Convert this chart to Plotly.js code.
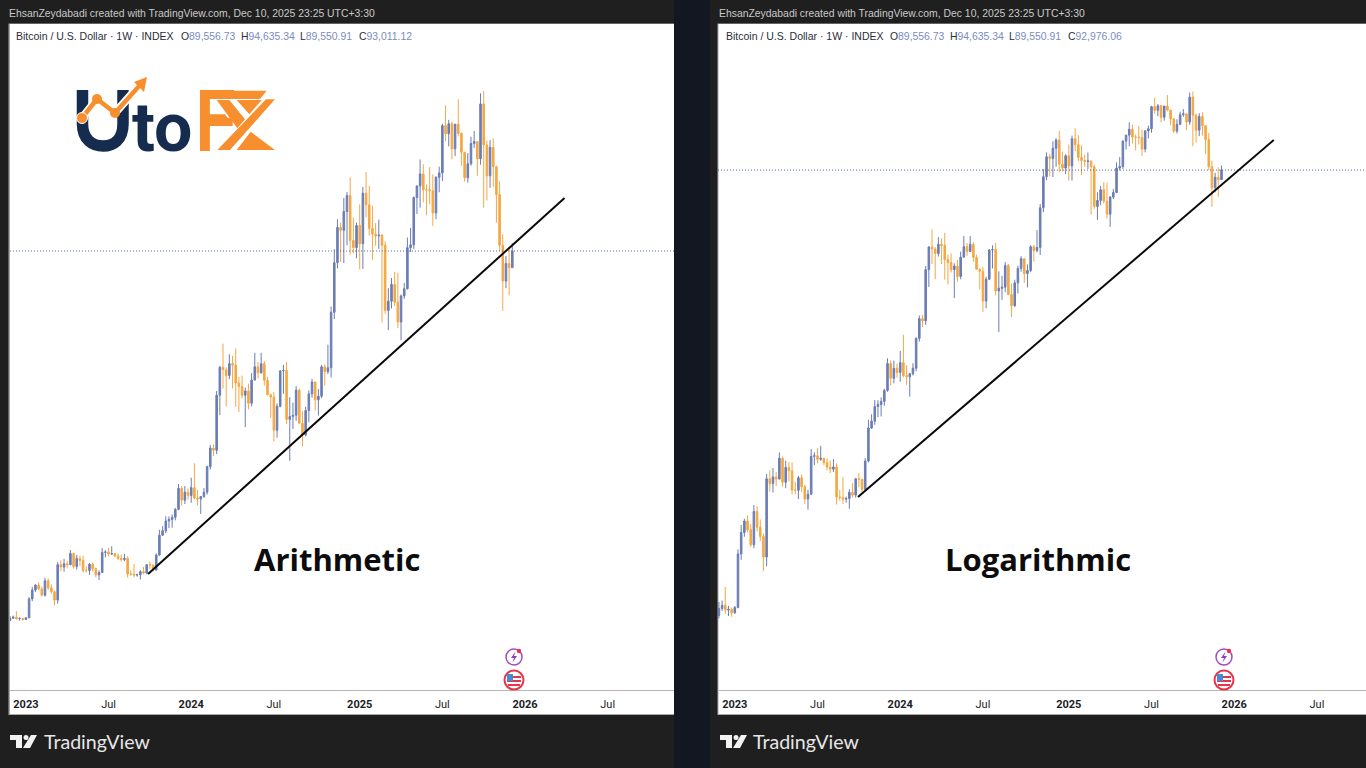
<!DOCTYPE html>
<html><head><meta charset="utf-8">
<script src="https://cdn.plot.ly/plotly-3.0.1.min.js"></script>
<style>html,body{margin:0;padding:0;background:#1f1f1f;overflow:hidden}#c{width:1366px;height:768px}</style>
</head><body><div id="c"></div>
<script>
const weekStarts = [
"2022-11-28","2022-12-05","2022-12-12","2022-12-19","2022-12-26",
"2023-01-02","2023-01-09","2023-01-16","2023-01-23","2023-01-30","2023-02-06","2023-02-13","2023-02-20","2023-02-27","2023-03-06","2023-03-13","2023-03-20","2023-03-27","2023-04-03","2023-04-10","2023-04-17","2023-04-24","2023-05-01","2023-05-08","2023-05-15","2023-05-22","2023-05-29","2023-06-05","2023-06-12","2023-06-19","2023-06-26","2023-07-03","2023-07-10","2023-07-17","2023-07-24","2023-07-31","2023-08-07","2023-08-14","2023-08-21","2023-08-28","2023-09-04","2023-09-11","2023-09-18","2023-09-25","2023-10-02","2023-10-09","2023-10-16","2023-10-23","2023-10-30","2023-11-06","2023-11-13","2023-11-20","2023-11-27","2023-12-04","2023-12-11","2023-12-18","2023-12-25",
"2024-01-01","2024-01-08","2024-01-15","2024-01-22","2024-01-29","2024-02-05","2024-02-12","2024-02-19","2024-02-26","2024-03-04","2024-03-11","2024-03-18","2024-03-25","2024-04-01","2024-04-08","2024-04-15","2024-04-22","2024-04-29","2024-05-06","2024-05-13","2024-05-20","2024-05-27","2024-06-03","2024-06-10","2024-06-17","2024-06-24","2024-07-01","2024-07-08","2024-07-15","2024-07-22","2024-07-29","2024-08-05","2024-08-12","2024-08-19","2024-08-26","2024-09-02","2024-09-09","2024-09-16","2024-09-23","2024-09-30","2024-10-07","2024-10-14","2024-10-21","2024-10-28","2024-11-04","2024-11-11","2024-11-18","2024-11-25","2024-12-02","2024-12-09","2024-12-16","2024-12-23","2024-12-30",
"2025-01-06","2025-01-13","2025-01-20","2025-01-27","2025-02-03","2025-02-10","2025-02-17","2025-02-24","2025-03-03","2025-03-10","2025-03-17","2025-03-24","2025-03-31","2025-04-07","2025-04-14","2025-04-21","2025-04-28","2025-05-05","2025-05-12","2025-05-19","2025-05-26","2025-06-02","2025-06-09","2025-06-16","2025-06-23","2025-06-30","2025-07-07","2025-07-14","2025-07-21","2025-07-28","2025-08-04","2025-08-11","2025-08-18","2025-08-25","2025-09-01","2025-09-08","2025-09-15","2025-09-22","2025-09-29","2025-10-06","2025-10-13","2025-10-20","2025-10-27","2025-11-03","2025-11-10","2025-11-17","2025-11-24","2025-12-01","2025-12-08"];
const opens = [16430,16880,17100,16780,16830,
16600,16950,20880,22700,23730,22950,21640,24630,23170,22350,20630,27970,27470,28170,27940,30300,27590,29230,28850,26780,26750,28080,27120,25850,26340,30530,30590,30170,30290,29780,29270,29040,29280,26050,26000,25840,25900,26530,26250,27970,27930,26850,29980,34080,35000,37050,37350,37800,39450,43800,41350,43000,
42300,43950,41800,41600,42100,43000,48300,52150,51700,63100,68900,68400,67200,69650,69350,65650,64900,63100,64000,61450,66250,69000,67750,69650,66200,63200,62700,55850,60800,68150,68250,58100,58700,58950,64150,57300,54850,59950,63400,65850,62150,62900,69000,68000,68800,80300,90600,97900,97300,101200,104500,95200,93700,
98300,94500,105000,102600,97700,96500,96150,96300,94200,80700,82600,86100,82400,78300,83700,85200,93700,94300,104100,106500,109000,105700,105700,105500,100900,108300,109200,119000,117300,119400,114200,119300,117400,113500,108200,111100,115300,115700,112100,123500,115000,108600,114500,110500,104700,94200,86800,90400,89556.73];
const highs = [17320,17420,18370,17060,16950,
17050,21250,23370,23950,24250,23450,25250,25130,23880,22600,28500,28900,29180,28750,31000,30490,30000,29850,29820,27650,28300,28450,27350,26800,31400,31000,31500,31800,30350,30300,30050,30200,29700,26800,28150,26100,26850,27500,28050,28600,27950,30300,35200,35950,38000,37980,38400,39700,44700,44300,44300,43800,
46000,49000,43500,42200,43850,48500,52800,52950,64000,69200,73800,68900,71600,71300,72800,66900,67200,64700,65500,67700,71900,70000,71900,70200,66900,63400,63800,61400,68300,69400,70000,62700,61600,65000,64500,59800,60700,64100,66500,65900,64400,69400,69500,73600,81500,93400,99600,98900,104000,105200,108300,99900,98900,
102700,106300,109400,106500,102400,98800,99500,96500,95000,85300,87400,88700,88500,84000,86400,95800,97800,104300,106600,112000,111000,106800,110400,108900,108500,110500,119400,123200,120200,119800,119300,124500,117600,113500,113300,116700,117900,115700,125700,126200,115900,116000,116400,110700,107500,96500,92000,94000,94635.34];
const lows = [16250,16730,16550,16400,16350,
16550,16900,20400,22320,22730,21450,21350,22770,21960,19550,19900,26600,26520,27200,27900,27130,26970,27700,26320,26350,25850,26550,25350,24800,26250,29500,29700,30000,29500,28900,28600,28700,25300,25700,25350,25500,24900,26000,26000,27100,26550,26800,29800,33950,34500,35550,35650,37150,39250,40200,40550,41450,
40800,41500,40300,38500,41800,42500,47700,50500,50900,59000,64500,60800,66400,64500,60700,59600,62400,56500,60200,60800,66250,66600,67600,65100,63200,58400,53500,54300,60600,63400,57100,49500,56100,57800,57200,52500,54600,57500,62600,59900,58900,62500,65100,67500,66800,78900,89400,90700,90500,94200,92200,92500,91500,
89200,89300,100000,96200,91200,94100,93400,78200,80000,76600,81100,81600,77000,74500,83100,85000,92800,93400,100700,102000,103100,100400,102700,98200,99600,105200,107500,115800,114700,112000,112700,116800,110700,107400,107200,110700,114400,108600,110900,102000,103500,106100,106300,98900,93000,80600,85300,83800,89550.91];
const closes = [16880,17100,16780,16830,16600,
16950,20880,22700,23730,22950,21640,24630,23170,22350,20630,27970,27470,28170,27940,30300,27590,29230,28850,26780,26750,28080,27120,25850,26340,30530,30590,30170,30290,29780,29270,29040,29280,26050,26000,25840,25900,26530,26250,27970,27930,26850,29980,34080,35000,37050,37350,37800,39450,43800,41350,43000,42300,
43950,41800,41600,42100,43000,48300,52150,51700,63100,68900,68400,67200,69650,69350,65650,64900,63100,64000,61450,66250,69000,67750,69650,66200,63200,62700,55850,60800,68150,68250,58100,58700,58950,64150,57300,54850,59950,63400,65850,62150,62900,69000,68000,68800,80300,90600,97900,97300,101200,104500,95200,93700,98300,
94500,105000,102600,97700,96500,96150,96300,94200,80700,82600,86100,82400,78300,83700,85200,93700,94300,104100,106500,109000,105700,105700,105500,100900,108300,109200,119000,117300,119400,114200,119300,117400,113500,108200,111100,115300,115700,112100,123500,115000,108600,114500,110500,104700,94200,86800,90400,89556.73,93011.12];
const lastCloseLog = 92976.06;
const closesLog = closes.slice(0,-1).concat([lastCloseLog]);
const tickDates = ["2023-01-02","2023-07-03","2024-01-01","2024-07-01","2025-01-06","2025-07-07","2026-01-05","2026-07-06"];
const tickLabels = ["<b>2023</b>","Jul","<b>2024</b>","Jul","<b>2025</b>","Jul","<b>2026</b>","Jul"];
const trendDates = ["2023-09-28","2026-04-02"];
const trendDatesLog = ["2023-09-30","2026-04-02"];
const trendArith = [26040,104000];
const trendLog = [26060,104500];
const lastCloseArith = 93011.12;

const UP='#6a7db5', DOWN='#f5a742', NAVY='#152c4f', ORANGE='#f78f2e';
const W=1366,H=768;
const fx=p=>p/W, fy=p=>1-p/H;
const HDR='"Liberation Sans",sans-serif', UI='Lato,"Open Sans",sans-serif';

function candle(close,xa,ya){return {type:'candlestick',x:weekStarts,open:opens,high:highs,low:lows,close:close,xaxis:xa,yaxis:ya,
  increasing:{line:{color:UP,width:1},fillcolor:UP},decreasing:{line:{color:DOWN,width:1},fillcolor:DOWN},whiskerwidth:0,hoverinfo:'skip',showlegend:false};}
function line(x,y,xa,ya,opt){return {type:'scatter',mode:'lines',x:x,y:y,xaxis:xa,yaxis:ya,line:opt,hoverinfo:'skip',showlegend:false};}

const rangeL=["2022-11-28","2026-11-29"], rangeR=["2022-11-26","2026-10-22"];
const dotted={color:'#5468a8',width:1,dash:'1px,2px'};
const traces=[
 candle(closes,'x','y'),
 candle(closesLog,'x2','y2'),
 line(rangeL,[lastCloseArith,lastCloseArith],'x','y',dotted),
 line(rangeR,[lastCloseLog,lastCloseLog],'x2','y2',dotted),
 line(trendDates,trendArith,'x','y',{color:'#0a0a0a',width:2}),
 line(trendDatesLog,trendLog,'x2','y2',{color:'#0a0a0a',width:2}),
];

function xAxis(dom,range,anchor){return {domain:dom,range:range,type:'date',anchor:anchor,rangeslider:{visible:false},showgrid:false,zeroline:false,
  showline:false,ticks:'',tickmode:'array',tickvals:tickDates,ticktext:tickLabels,ticklabelstandoff:6,tickangle:0,
  tickfont:{family:'Roboto,sans-serif',size:11,color:'#1a1d26'},fixedrange:true};}
function yAxis(range,type,anchor){return {domain:[fy(690),fy(24)],range:range,type:type,anchor:anchor,visible:false,showgrid:false,zeroline:false,fixedrange:true};}

function note(text,x,y,size,color,family,anchor,weight){const f={size:size,color:color,family:family||UI}; if(weight) f.weight=weight;
  return {text:text,x:fx(x),y:fy(y),xref:'paper',yref:'paper',xanchor:anchor||'left',yanchor:'middle',showarrow:false,borderpad:0,font:f};}
function rect(x0,y0,x1,y1,fill,layer){return {type:'rect',xref:'paper',yref:'paper',x0:fx(x0),y0:fy(y0),x1:fx(x1),y1:fy(y1),fillcolor:fill,line:{width:0},layer:layer||'below'};}
function path(pts,opt){ // pts: list of [cmd,x,y...] in page pixels
  const d=pts.map(s=>{const c=s[0];let o=c;for(let i=1;i<s.length;i+=2){o+=(i>1?' ':'')+fx(s[i]).toFixed(6)+','+fy(s[i+1]).toFixed(6);}return o;}).join(' ');
  return Object.assign({type:'path',xref:'paper',yref:'paper',path:d,layer:'above',line:{width:0}},opt);}
function poly(list,fill){return path(list.map((p,i)=>[i?'L':'M',p[0],p[1]]).concat([['Z']]),{fillcolor:fill});}
function circle(cx,cy,r,fill,stroke,sw){return {type:'circle',xref:'paper',yref:'paper',x0:fx(cx-r),x1:fx(cx+r),y0:fy(cy+r),y1:fy(cy-r),fillcolor:fill,line:{color:stroke||fill,width:sw||0},layer:'above'};}

function icons(cx){return [
  circle(cx,657,8,'#ffffff','#a24bc2',1.5),
  path([['M',cx+1.5,651.5],['L',cx-3,658],['L',cx,658],['L',cx-1.5,662.5],['L',cx+3,656],['L',cx,656],['Z']],{fillcolor:'#8e3fb5'}),
  circle(cx+5,651,2.2,'#e8344a'),
  circle(cx,680,9.5,'#ffffff','#e8344a',2),
  rect(cx-7,676,cx+7,678,'#e8344a','above'),
  rect(cx-7,680,cx+7,682,'#e8344a','above'),
  rect(cx-6,684,cx+6,686,'#e8344a','above'),
  rect(cx-7,674,cx-1,681,'#3f8fdc','above'),
];}
function tvLogo(x){return [
  path([['M',x,735],['L',x+12,735],['L',x+12,748],['L',x+6,748],['L',x+6,740],['L',x,740],['Z']],{fillcolor:'#f2f2f2'}),
  circle(x+16,737.5,2.5,'#f2f2f2'),
  path([['M',x+21,735],['L',x+27,735],['L',x+20,748],['L',x+13,748],['Z']],{fillcolor:'#f2f2f2'}),
];}
const lx=v=>180+v/3, ly=v=>80+v/3, lp=(a,b)=>[lx(a),ly(b)];
const logoShapes=[
 // U
 path([['M',82.5,90],['L',82.5,124],['C',82.5,140,93,146,103,146],['C',113,146,123,140,123,124],['L',123,90]],{line:{color:NAVY,width:11.5},fillcolor:'rgba(0,0,0,0)'}),
 // F bars, extended past the letter
 poly([lp(60,32),lp(260,32),lp(240,57),lp(60,57)],ORANGE),
 poly([lp(60,103),lp(135,103),lp(155,130),lp(60,130)],ORANGE),
 // X built from strips and triangles
 poly([lp(258,58),lp(285,58),lp(150,210),lp(112,210)],ORANGE),
 poly([lp(110,60),lp(148,60),lp(195,118),lp(172,145)],ORANGE),
 poly([lp(170,60),lp(245,60),lp(208,103)],ORANGE),
 poly([lp(212,155),lp(285,210),lp(170,210)],ORANGE),
 // rising arrow across the U
 path([['M',82,118],['L',97,99],['L',115,113],['L',138,87]],{line:{color:'#ffffff',width:8},fillcolor:'rgba(0,0,0,0)'}),
 path([['M',82,118],['L',97,99],['L',115,113],['L',140,85]],{line:{color:ORANGE,width:4.5},fillcolor:'rgba(0,0,0,0)'}),
 path([['M',147,77],['L',134,82],['L',144,92],['Z']],{fillcolor:ORANGE}),
 circle(82,118,5.5,ORANGE,'#ffffff',1),
 circle(97,99,5,ORANGE),
 circle(115,113,5,ORANGE),
];

const shapes=[
 rect(674,0,710,768,'#131722'),
 rect(8.5,23.5,674,715,'#a9a9a9'),
 rect(717.5,23.5,1366,715,'#a9a9a9'),
 rect(10,24,674,714,'#ffffff'),
 rect(718.5,24,1366,714,'#ffffff'),
 rect(10,690,674,691,'#b7b7b7'),
 rect(718.5,690,1366,691,'#b7b7b7'),
 ...icons(514),...icons(1224),...tvLogo(10),...tvLogo(720),
 ...logoShapes,
];

function legend(x,label,val){return note('<span style="color:#2a2e39">'+label+'</span><span style="color:#7b8cbf">'+val+'</span>',x,36,10.4,'#2a2e39',HDR);}
const hdr='EhsanZeydabadi created with TradingView.com, Dec 10, 2025 23:25 UTC+3:30';
const ttl='Bitcoin / U.S. Dollar · 1W · INDEX';
const annotations=[
 note(hdr,8,13,10.4,'#c9c9c9',HDR), note(hdr,717.5,13,10.4,'#c9c9c9',HDR),
 note(ttl,15,36,10.5,'#2a2e39',HDR), note(ttl,725,36,10.5,'#2a2e39',HDR),
 legend(180,'O','89,556.73'),legend(240,'H','94,635.34'),legend(299,'L','89,550.91'),legend(358,'C','93,011.12'),
 legend(889,'O','89,556.73'),legend(949,'H','94,635.34'),legend(1008,'L','89,550.91'),legend(1067,'C','92,976.06'),
 note('<b>Arithmetic</b>',252.5,559,31,'#0c0c0c','"Open Sans",sans-serif'),
 note('<b>Logarithmic</b>',943.5,559,31,'#0c0c0c','"Open Sans",sans-serif'),
 note('TradingView',43,741,19.6,'#e6e6e6',UI), note('TradingView',751.5,741,19.6,'#e6e6e6',UI),
 note('<b>to</b>',131,128,68,NAVY,'Roboto,sans-serif'),
 note('F',191,118,85,ORANGE,'"Open Sans",sans-serif',null,600),
];

const layout={width:W,height:H,margin:{l:0,r:0,t:0,b:0,pad:0},paper_bgcolor:'#1f1f1f',plot_bgcolor:'#ffffff',showlegend:false,dragmode:false,hovermode:false,
 xaxis:xAxis([fx(10),fx(674)],rangeL,'y'),yaxis:yAxis([1989,140077],'linear','x'),
 xaxis2:xAxis([fx(718),1],rangeR,'y2'),yaxis2:yAxis([4.0898,5.2152],'log','x2'),
 shapes:shapes,annotations:annotations};
Plotly.newPlot('c',traces,layout,{displayModeBar:false,staticPlot:true});
</script></body></html>
